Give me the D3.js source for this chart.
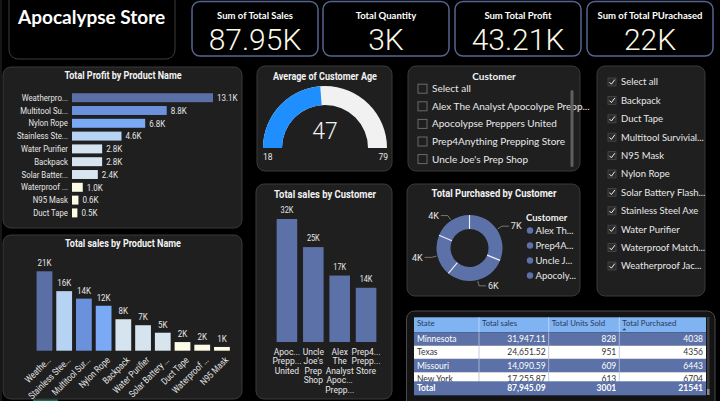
<!DOCTYPE html>
<html><head><meta charset="utf-8">
<script src="https://cdn.jsdelivr.net/npm/d3@7"></script>
<style>
html,body{margin:0;padding:0;background:#000;overflow:hidden;}
svg{display:block;}
</style></head><body>
<svg id="c" width="720" height="401"></svg>
<script>
// ---------------- DATA ----------------
const storeTitle = "Apocalypse Store";
const cardTitles = ["Sum of Total Sales", "Total Quantity", "Sum Total Profit", "Sum of Total PUrachased"];
const cardValues = ["87.95K", "3K", "43.21K", "22K"];

const profitNames = ["Weatherproof Jacket","Multitool Survival Kit","Nylon Rope","Stainless Steel Axe","Water Purifier","Backpack","Solar Battery Flashlight","Waterproof Matches","N95 Mask","Duct Tape"];
const profitLabels = ["Weatherpro...","Multitool Su...","Nylon Rope","Stainless Ste...","Water Purifier","Backpack","Solar Batter...","Waterproof ...","N95 Mask","Duct Tape"];
const profitValues = [13.1, 8.8, 6.8, 4.6, 2.8, 2.8, 2.4, 1.0, 0.6, 0.5];

const salesNames = ["Weatherproof Jacket","Stainless Steel Axe","Multitool Survival Kit","Nylon Rope","Backpack","Water Purifier","Solar Battery Flashlight","Duct Tape","Waterproof Matches","N95 Mask"];
const salesLabels = ["Weathe...","Stainless Stee...","Multitool Sur...","Nylon Rope","Backpack","Water Purifier","Solar Battery ...","Duct Tape","Waterproof ...","N95 Mask"];
const salesValues = [21.2, 15.9, 13.9, 12.0, 8.4, 6.8, 4.8, 2.3, 1.6, 1.0];

const ageMin = 18, ageMax = 79, ageAvg = 47;

const customerSlicer = ["Select all","Alex The Analyst Apocolype Prepp...","Apocolypse Preppers United","Prep4Anything Prepping Store","Uncle Joe's Prep Shop"];
const productSlicer = ["Select all","Backpack","Duct Tape","Multitool Survivial...","N95 Mask","Nylon Rope","Solar Battery Flash...","Stainless Steel Axe","Water Purifier","Waterproof Match...","Weatherproof Jac..."];

const custSalesLabels = [["Apoc...","Prepp...","United"],["Uncle","Joe's","Prep","Shop"],["Alex","The","Analyst","Apoc...","Prepp..."],["Prep4...","Prepp...","Store"]];
const custSalesValues = [31.95, 24.65, 17.26, 14.09];

const donutLegend = ["Alex Th...","Prep4A...","Uncle J...","Apocoly..."];
const donutValues = [6704, 6443, 4356, 4038];

const tableHeaders = ["State","Total sales","Total Units Sold","Total Purchased"];
const tableStates = ["Minnesota","Texas","Missouri","New York"];
const tableSales = [31947.11, 24651.52, 14090.59, 17255.87];
const tableUnits = [828, 951, 609, 613];
const tablePurchased = [4038, 4356, 6443, 6704];
const tableTotals = ["Total", 87945.09, 3001, 21541];

// ---------------- HELPERS ----------------
const svg = d3.select("#c");
const DIN = "Roboto, 'DejaVu Sans', sans-serif";
const SEG = "Lato, 'Open Sans', sans-serif";
const SLATE = "#5b71a7";
function condense(sel, k){
  sel.each(function(){
    const w = this.getComputedTextLength();
    if (w > 0){ this.setAttribute("textLength", w*k); this.setAttribute("lengthAdjust","spacingAndGlyphs"); }
  });
  return sel;
}
function panel(x,y,w,h){
  svg.append("rect").attr("x",x).attr("y",y).attr("width",w).attr("height",h)
    .attr("rx",8).attr("fill","#1f1f1f").attr("stroke","#3a3a3a").attr("stroke-width",1);
}
function title(text,x,y,size){
  const t = svg.append("text").attr("x",x).attr("y",y).attr("text-anchor","middle")
    .attr("font-family",DIN).attr("font-weight",700).attr("font-size",size||11)
    .attr("fill","#f2f2f2").text(text);
  condense(t,0.82);
  return t;
}
const profitColor = d3.scaleLinear()
  .domain([0.5,1.0,2.4,2.8,4.6,6.8,8.8,13.1])
  .range(["#fdfce6","#fbfbe6","#d9e5ee","#d6e4ef","#b7d3f4","#7aaaf6","#6b91dc","#5a6fa6"]);
const profitByName = new Map(profitNames.map((n,i)=>[n,profitValues[i]]));

// ---------------- HEADER ----------------
svg.append("rect").attr("x",0).attr("y",0).attr("width",2).attr("height",401).attr("fill","#161616");
svg.append("rect").attr("x",9).attr("y",-8).attr("width",166).attr("height",67).attr("rx",9)
  .attr("fill","#000").attr("stroke","#3d3d3d");
svg.append("text").attr("x",18).attr("y",24).attr("font-family",SEG).attr("font-weight",700)
  .attr("font-size",19).attr("fill","#fff").text(storeTitle);

const cardX = [192, 323, 455, 587], cardW = 126;
cardTitles.forEach((t,i)=>{
  const x = cardX[i];
  svg.append("rect").attr("x",x).attr("y",1.5).attr("width",cardW).attr("height",54.5).attr("rx",8)
    .attr("fill","#000").attr("stroke","#56658f").attr("stroke-width",1.5);
  svg.append("text").attr("x",x+cardW/2).attr("y",19).attr("text-anchor","middle")
    .attr("font-family",SEG).attr("font-weight",700).attr("font-size",9.5).attr("fill","#fff").text(t);
  svg.append("text").attr("x",x+cardW/2).attr("y",49.5).attr("text-anchor","middle")
    .attr("font-family",DIN).attr("font-weight",300).attr("font-size",30).attr("fill","#fbf8e6").text(cardValues[i]);
});

// ---------------- PROFIT BY PRODUCT ----------------
panel(3,67,239,161);
title("Total Profit by Product Name",123,78.5);
const xP = d3.scaleLinear().domain([0,d3.max(profitValues)]).range([72,213]);
const yP = d3.scaleBand().domain(profitLabels).range([91.3,219.3]).paddingInner(0.3).paddingOuter(0.15);
svg.append("g").selectAll("rect").data(profitValues).join("rect")
  .attr("x",xP(0)).attr("y",(d,i)=>yP(profitLabels[i])).attr("width",d=>xP(d)-xP(0))
  .attr("height",yP.bandwidth()).attr("fill",d=>profitColor(d));
const pl = svg.append("g").selectAll("text").data(profitValues).join("text")
  .attr("x",d=>xP(d)+4).attr("y",(d,i)=>yP(profitLabels[i])+yP.bandwidth()/2).attr("dy","0.35em")
  .attr("font-family",DIN).attr("font-size",9.5).attr("fill","#e6e6e6").text(d=>d.toFixed(1)+"K");
condense(pl,0.84);
const axP = svg.append("g").attr("transform","translate(68,0)").call(d3.axisLeft(yP).tickSize(0).tickPadding(0));
axP.select(".domain").remove();
condense(axP.selectAll("text").attr("font-family",DIN).attr("font-size",9.5).attr("fill","#e6e6e6"),0.82);

// ---------------- SALES BY PRODUCT ----------------
panel(3,235,239,164);
title("Total sales by Product Name",123,247);
const xS = d3.scaleBand().domain(salesLabels).range([34.6,231.8]).paddingInner(0.2).paddingOuter(0.1);
const yS = d3.scaleLinear().domain([0,d3.max(salesValues)]).range([350.7,271.3]);
svg.append("g").selectAll("rect").data(salesValues).join("rect")
  .attr("x",(d,i)=>xS(salesLabels[i])).attr("y",d=>yS(d)).attr("width",xS.bandwidth())
  .attr("height",d=>yS(0)-yS(d)).attr("fill",(d,i)=>profitColor(profitByName.get(salesNames[i])));
const sl = svg.append("g").selectAll("text").data(salesValues).join("text")
  .attr("x",(d,i)=>xS(salesLabels[i])+xS.bandwidth()/2).attr("y",d=>yS(d)-5)
  .attr("text-anchor","middle").attr("font-family",DIN).attr("font-size",9.5).attr("fill","#e6e6e6")
  .text(d=>Math.round(d)+"K");
condense(sl,0.84);
const axS = svg.append("g").attr("transform","translate(0,350.7)").call(d3.axisBottom(xS).tickSize(0).tickPadding(0));
axS.select(".domain").remove();
const axSt = axS.selectAll("text").attr("font-family",DIN).attr("font-size",9.5).attr("fill","#e6e6e6")
  .attr("text-anchor","end").attr("dy",null).attr("y",0)
  .attr("transform","translate(3,6) rotate(-45)").attr("dy","0.6em");
condense(axSt,0.82);

// ---------------- GAUGE ----------------
panel(257,66,135,105);
title("Average of Customer Age",325,79.5);
const gx = 325, gy = 148;
const ageScale = d3.scaleLinear().domain([ageMin,ageMax]).range([-Math.PI/2, Math.PI/2]);
const gArc = d3.arc().innerRadius(43).outerRadius(62);
const gG = svg.append("g").attr("transform",`translate(${gx},${gy})`);
gG.append("path").attr("d",gArc({startAngle:ageScale(ageMin),endAngle:ageScale(ageMax)})).attr("fill","#f1f1f1");
gG.append("path").attr("d",gArc({startAngle:ageScale(ageMin),endAngle:ageScale(ageAvg)})).attr("fill","#1f8fff");
svg.append("text").attr("x",gx).attr("y",139).attr("text-anchor","middle").attr("font-family",DIN)
  .attr("font-weight",300).attr("font-size",23).attr("fill","#f2f2f2").text(ageAvg);
svg.append("text").attr("x",263).attr("y",160).attr("font-family",DIN).attr("font-size",8.5).attr("fill","#e6e6e6").text(ageMin);
svg.append("text").attr("x",388).attr("y",160).attr("text-anchor","end").attr("font-family",DIN).attr("font-size",8.5).attr("fill","#e6e6e6").text(ageMax);

// ---------------- CUSTOMER SLICER ----------------
panel(408,66,172,105);
svg.append("text").attr("x",494).attr("y",79.5).attr("text-anchor","middle").attr("font-family",SEG)
  .attr("font-weight",700).attr("font-size",10).attr("fill","#f2f2f2").text("Customer");
const cs = svg.append("g").selectAll("g").data(customerSlicer).join("g")
  .attr("transform",(d,i)=>`translate(0,${88.7+i*17.6})`);
cs.append("rect").attr("x",418).attr("y",-4.5).attr("width",9).attr("height",9)
  .attr("fill","none").attr("stroke","#6a6a6a").attr("stroke-width",1);
cs.append("text").attr("x",432).attr("dy","0.35em").attr("font-family",SEG).attr("font-size",10)
  .attr("fill","#e8e8e8").text(d=>d);
svg.append("rect").attr("x",570.5).attr("y",90).attr("width",3).attr("height",77).attr("rx",1.5).attr("fill","#5f5f5f");

// ---------------- PRODUCT SLICER ----------------
panel(597,66,108,230);
const ps = svg.append("g").selectAll("g").data(productSlicer).join("g")
  .attr("transform",(d,i)=>`translate(0,${82+i*18.4})`);
ps.append("rect").attr("x",608).attr("y",-4).attr("width",8).attr("height",8)
  .attr("fill","#2a2a2a").attr("stroke","#4a4a4a").attr("stroke-width",0.8);
ps.append("path").attr("d","M609.5,0.2 L611.4,2.2 L614.8,-2.4").attr("fill","none")
  .attr("stroke","#f0f0f0").attr("stroke-width",1);
ps.append("text").attr("x",621).attr("dy","0.35em").attr("font-family",SEG).attr("font-size",9.5)
  .attr("fill","#e8e8e8").text(d=>d);

// ---------------- SALES BY CUSTOMER ----------------
panel(256,184,136,215);
title("Total sales by Customer",325,197.5,11.5);
const custKeys = custSalesLabels.map(l=>l.join(" "));
const xC = d3.scaleBand().domain(custKeys).range([274,379]).paddingInner(0.22).paddingOuter(0.1);
const yC = d3.scaleLinear().domain([0,d3.max(custSalesValues)]).range([342,219]);
svg.append("g").selectAll("rect").data(custSalesValues).join("rect")
  .attr("x",(d,i)=>xC(custKeys[i])).attr("y",d=>yC(d)).attr("width",xC.bandwidth())
  .attr("height",d=>yC(0)-yC(d)).attr("fill",SLATE);
const cl = svg.append("g").selectAll("text").data(custSalesValues).join("text")
  .attr("x",(d,i)=>xC(custKeys[i])+xC.bandwidth()/2).attr("y",d=>yC(d)-6)
  .attr("text-anchor","middle").attr("font-family",DIN).attr("font-size",8.5).attr("fill","#e6e6e6")
  .text(d=>Math.round(d)+"K");
condense(cl,0.86);
const axC = svg.append("g").attr("transform","translate(0,342)").call(d3.axisBottom(xC).tickSize(0).tickPadding(0).tickFormat(""));
axC.select(".domain").remove();
axC.selectAll(".tick").each(function(d,i){
  const t = d3.select(this).append("text").attr("text-anchor","middle").attr("font-family",DIN)
    .attr("font-size",8.5).attr("fill","#e6e6e6").attr("y",13);
  custSalesLabels[i].forEach((line,j)=>{
    t.append("tspan").attr("x",0).attr("y",13+j*9.4).text(line);
  });
});

// ---------------- DONUT ----------------
panel(407,184,173,112);
title("Total Purchased by Customer",494,197,11.5);
const dcx = 469.5, dcy = 248, rIn = 19, rOut = 33;
const pie = d3.pie().sort(null).value(d=>d);
const arcs = pie(donutValues);
const dArc = d3.arc().innerRadius(rIn).outerRadius(rOut);
const dG = svg.append("g").attr("transform",`translate(${dcx},${dcy})`);
dG.selectAll("path").data(arcs).join("path").attr("d",dArc).attr("fill",SLATE);
dG.selectAll("line.sep").data(arcs).join("line").attr("class","sep")
  .attr("x1",a=>rIn*Math.sin(a.startAngle)).attr("y1",a=>-rIn*Math.cos(a.startAngle))
  .attr("x2",a=>rOut*Math.sin(a.startAngle)).attr("y2",a=>-rOut*Math.cos(a.startAngle))
  .attr("stroke","#eef2f8").attr("stroke-width",1.1);
arcs.forEach(a=>{
  const m = (a.startAngle+a.endAngle)/2, s = Math.sin(m) >= 0 ? 1 : -1;
  const p1 = [(rOut+1)*Math.sin(m), -(rOut+1)*Math.cos(m)];
  const p2 = [(rOut+6)*Math.sin(m), -(rOut+6)*Math.cos(m)];
  const p3 = [p2[0]+s*7, p2[1]];
  dG.append("polyline").attr("points",[p1,p2,p3].map(p=>p.join(",")).join(" "))
    .attr("fill","none").attr("stroke","#8a8a8a").attr("stroke-width",0.8);
  dG.append("text").attr("x",p3[0]+s*2).attr("y",p3[1]).attr("dy","0.35em")
    .attr("text-anchor",s>0?"start":"end").attr("font-family",DIN).attr("font-size",9)
    .attr("fill","#e6e6e6").text(Math.round(a.data/1000)+"K");
});
svg.append("text").attr("x",526).attr("y",221).attr("font-family",SEG).attr("font-weight",700)
  .attr("font-size",9.5).attr("fill","#f2f2f2").text("Customer");
const lg = svg.append("g").selectAll("g").data(donutLegend).join("g")
  .attr("transform",(d,i)=>`translate(0,${230.5+i*15})`);
lg.append("circle").attr("cx",530).attr("cy",0).attr("r",3.2).attr("fill",SLATE);
lg.append("text").attr("x",535.5).attr("dy","0.35em").attr("font-family",SEG).attr("font-size",9.5)
  .attr("fill","#e8e8e8").text(d=>d);

// ---------------- TABLE ----------------
svg.append("rect").attr("x",406.5).attr("y",311).attr("width",308.5).attr("height",100).attr("rx",8)
  .attr("fill","#141414").attr("stroke","#4a4a4a");
const colX = [414, 479, 548.7, 619.3, 706];
const fmt2 = d3.format(",.2f");
const hdrY = 317.3, hdrH = 15, rowH = 13.3;
svg.append("rect").attr("x",colX[0]).attr("y",hdrY).attr("width",colX[4]-colX[0]).attr("height",hdrH).attr("fill","#80b3f2");
tableHeaders.forEach((h,i)=>{
  svg.append("text").attr("x",colX[i]+3).attr("y",hdrY+9).attr("font-family",SEG).attr("font-size",7.8)
    .attr("fill","#2b3a55").text(h);
  if(i>0) svg.append("line").attr("x1",colX[i]).attr("x2",colX[i]).attr("y1",hdrY).attr("y2",hdrY+hdrH)
    .attr("stroke","#cfe0f8").attr("stroke-width",0.7);
});
svg.append("path").attr("d",`M${colX[3]+3},${hdrY+13} l2,-2 l2,2 z`).attr("fill","#2b3a55");
const rows = tableStates.map((s,i)=>[s, fmt2(tableSales[i]), tableUnits[i], tablePurchased[i]]);
rows.forEach((r,ri)=>{
  const y = hdrY+hdrH+ri*rowH, odd = ri%2===0;
  svg.append("rect").attr("x",colX[0]).attr("y",y).attr("width",colX[4]-colX[0]).attr("height",rowH)
    .attr("fill",odd?SLATE:"#ffffff");
  r.forEach((v,ci)=>{
    svg.append("text").attr("x",ci===0?colX[0]+3:colX[ci+1]-3).attr("y",y+9.6)
      .attr("text-anchor",ci===0?"start":"end").attr("font-family",SEG).attr("font-size",8.5)
      .attr("fill",odd?"#ffffff":"#333333").text(v);
    if(ci>0) svg.append("line").attr("x1",colX[ci]).attr("x2",colX[ci]).attr("y1",y).attr("y2",y+rowH)
      .attr("stroke",odd?"#d8e0ee":"#9aa8c6").attr("stroke-width",0.6);
  });
});
const totY = 381.3;
svg.append("rect").attr("x",colX[0]).attr("y",totY).attr("width",colX[4]-colX[0]).attr("height",14).attr("fill",SLATE);
[tableTotals[0], fmt2(tableTotals[1]), tableTotals[2], tableTotals[3]].forEach((v,ci)=>{
  svg.append("text").attr("x",ci===0?colX[0]+3:colX[ci+1]-3).attr("y",totY+10)
    .attr("text-anchor",ci===0?"start":"end").attr("font-family",SEG).attr("font-weight",700)
    .attr("font-size",8.5).attr("fill","#ffffff").text(v);
});
svg.append("rect").attr("x",707).attr("y",317).attr("width",2.5).attr("height",78).attr("fill","#3a3a3a");
svg.append("rect").attr("x",707).attr("y",389).attr("width",2.5).attr("height",6).attr("fill","#888");

// bottom teal strip
svg.append("rect").attr("x",33).attr("y",399.5).attr("width",25).attr("height",2).attr("fill","#1d6b5c");
</script>
</body></html>
